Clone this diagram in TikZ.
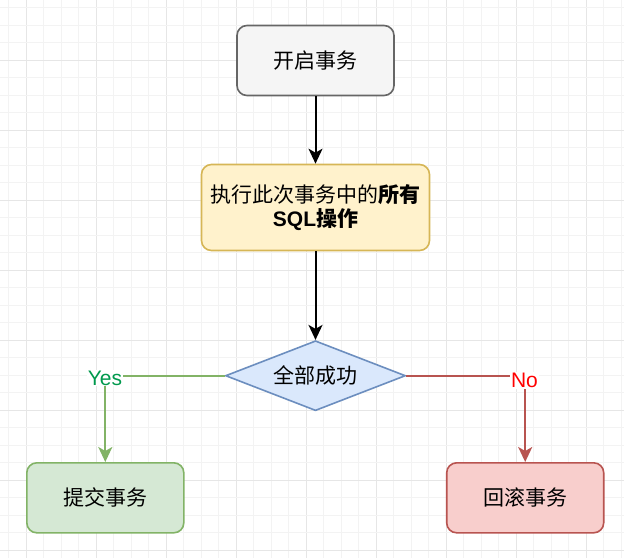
\documentclass[tikz,border=0pt]{standalone}
\usepackage{fontspec}
\setmainfont{Liberation Sans}
\newfontfamily\cjk{Noto Sans CJK SC}
\usetikzlibrary{arrows.meta,shapes.geometric}
\definecolor{gminor}{HTML}{F3F3F3}
\definecolor{gmajor}{HTML}{E6E6E6}
\definecolor{grayfill}{HTML}{F5F5F5}
\definecolor{graystroke}{HTML}{666666}
\definecolor{yelfill}{HTML}{FFF2CC}
\definecolor{yelstroke}{HTML}{D6B656}
\definecolor{bluefill}{HTML}{DAE8FC}
\definecolor{bluestroke}{HTML}{6C8EBF}
\definecolor{grnfill}{HTML}{D5E8D4}
\definecolor{grnstroke}{HTML}{82B366}
\definecolor{redfill}{HTML}{F8CECC}
\definecolor{redstroke}{HTML}{B85450}
\definecolor{yestext}{HTML}{00994D}
\definecolor{notext}{HTML}{FF0000}
\tikzset{
  box/.style={rectangle, rounded corners=10pt, line width=1.6pt, inner sep=0pt,
    font=\fontsize{21}{25}\selectfont, align=center},
  arr/.style={line width=2pt, -{Stealth[length=15pt,width=14pt,inset=4pt]}},
  lbl/.style={fill=white, inner sep=1pt, font=\fontsize{21}{24}\selectfont},
}
\begin{document}
\begin{tikzpicture}[x=1pt,y=-1pt]
\useasboundingbox (0,0) rectangle (624,558);
\fill[white] (0,0) rectangle (624,558);
% grid
\foreach \k in {0,...,35}{
  \pgfmathsetmacro{\xx}{8.5+17.5*\k}
  \pgfmathtruncatemacro{\m}{mod(\k,4)}
  \ifnum\m=1 \draw[gmajor,line width=1pt] (\xx,0) -- (\xx,558);
  \else \draw[gminor,line width=1pt] (\xx,0) -- (\xx,558); \fi
}
\foreach \k in {0,...,31}{
  \pgfmathsetmacro{\yy}{7.5+17.5*\k}
  \pgfmathtruncatemacro{\m}{mod(\k,4)}
  \ifnum\m=3 \draw[gmajor,line width=1pt] (0,\yy) -- (624,\yy);
  \else \draw[gminor,line width=1pt] (0,\yy) -- (624,\yy); \fi
}
% nodes
\node[box, fill=grayfill, draw=graystroke, minimum width=157pt, minimum height=70pt]
  (start) at (315.5,60.5) {\cjk 开启事务};
\node[box, fill=yelfill, draw=yelstroke, minimum width=228pt, minimum height=86pt]
  (exec) at (315.5,207.5) {{\cjk 执行此次事务中的\textbf{所有}}\\[-1pt]\textbf{SQL{\cjk 操作}}};
\node[diamond, aspect=2.57, fill=bluefill, draw=bluestroke, line width=1.6pt, inner sep=0pt,
  minimum width=180pt, minimum height=70pt, font=\fontsize{21}{25}\selectfont]
  (dec) at (315.5,375.7) {\cjk 全部成功};
\node[box, fill=grnfill, draw=grnstroke, minimum width=157pt, minimum height=70pt]
  (ok) at (105.3,497.8) {\cjk 提交事务};
\node[box, fill=redfill, draw=redstroke, minimum width=157pt, minimum height=70pt]
  (rb) at (525.2,497.8) {\cjk 回滚事务};
% connectors
\draw[arr] (start) -- (exec);
\draw[arr] (exec) -- (dec);
\coordinate (cy) at (ok.north |- dec.west);
\coordinate (cn) at (rb.north |- dec.east);
\draw[arr, grnstroke] (dec.west) -- (cy) -- (ok.north);
\draw[arr, redstroke] (dec.east) -- (cn) -- (rb.north);
\node[lbl, text=yestext] (yes) at (105,378) {Yes};
\node[lbl, text=notext] (no) at (524.5,380.5) {No};
\end{tikzpicture}
\end{document}
